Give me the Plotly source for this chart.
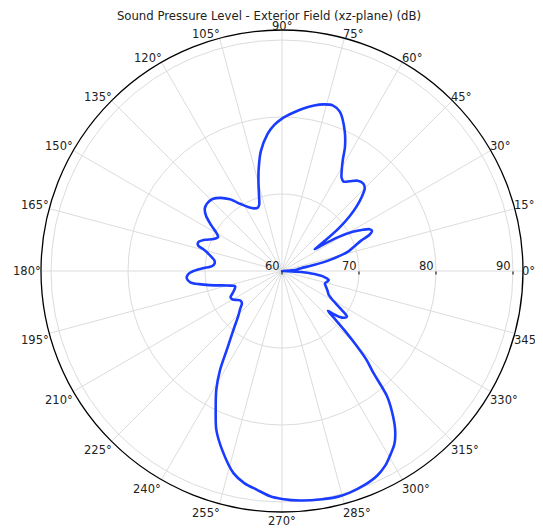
import math
import plotly.graph_objects as go

# angle (deg) and sound pressure level (dB)
theta_deg = [
    0, 2, 4, 6, 8.5, 10.5, 13, 16.5, 19, 21, 22.5, 24, 25.5, 27, 29, 31, 33, 33.8,
    35, 37, 39, 41, 43, 45, 47, 50, 53, 55.5, 57.5, 59.5, 61.5, 63, 66, 70, 73,
    76, 79, 82.5, 86, 90, 93, 96, 100, 103, 105, 107, 109, 111, 114, 118, 122,
    126, 130, 134, 138, 141, 144, 147, 150, 152, 155, 158, 161, 163, 165, 168,
    171, 173.5, 176, 178, 180, 182, 184.5, 187, 189, 191, 193, 195, 198, 201,
    204, 207, 210, 213, 216, 219, 222, 226, 230, 233, 235, 238, 241, 244.5,
    247.5, 251.5, 256.5, 260, 263.5, 267, 270, 274.5, 280, 284, 287, 291, 295,
    298, 300, 303, 305.5, 308, 310, 312, 313.5, 315, 316.5, 318, 319, 320,
    321.5, 323, 325, 327, 329, 331, 333, 336, 338, 341, 344, 346.5, 349, 351,
    353, 355, 357, 359, 360,
]
spl_db = [
    60, 60.6, 61.4, 62.0, 62.5, 64.2, 66.4, 69.0, 70.0, 71.0, 72.3, 72.8, 72.6,
    71.8, 70.5, 68.6, 66.0, 65.1, 66.6, 69.3, 71.3, 72.9, 74.2, 75.2, 75.5, 75.3,
    74.6, 74.1, 74.4, 75.3, 76.6, 78.0, 80.0, 82.0, 82.5, 82.3, 81.9, 81.3, 80.6,
    79.8, 79.0, 77.9, 75.8, 73.5, 71.8, 70.2, 69.1, 68.8, 68.9, 69.4, 70.3, 71.5,
    72.4, 73.0, 73.1, 72.9, 72.2, 71.0, 69.8, 69.4, 69.8, 70.8, 71.5, 71.4, 70.4,
    69.5, 68.9, 68.8, 69.1, 70.3, 71.5, 72.2, 72.4, 72.0, 70.9, 69.6, 68.3, 67.3,
    66.4, 66.6, 67.0, 67.5, 67.4, 66.9, 66.6, 66.7, 67.3, 68.2, 69.7, 71.2, 72.5,
    75.2, 77.6, 80.0, 82.3, 84.5, 87.0, 88.0, 88.6, 89.3, 89.6, 89.9, 90.1, 90.2,
    90.1, 89.8, 89.3, 88.6, 87.9, 86.8, 85.3, 83.2, 81.2, 77.6, 76.0, 73.6, 71.2,
    69.0, 67.9, 68.6, 69.6, 70.1, 70.3, 69.2, 68.1, 67.3, 66.8, 66.5, 66.3, 66.0,
    65.8, 66.0, 66.2, 65.8, 65.2, 64.0, 62.5, 60.8, 60,
]
angle_ticks = list(range(0, 360, 15))
radial_ticks = [60, 70, 80, 90]
r_range = [60, 91.3]

fig = go.Figure()
fig.add_trace(go.Scatterpolar(
    r=spl_db, theta=theta_deg, mode="lines",
    line=dict(color="#1a3cff", width=2.6, shape="spline", smoothing=0.8),
    showlegend=False,
))

# the page body adds an 8px offset, so positions are given 8px up/left
off = 8
cx, cy, rad = 282 - off, 271 - off, 241
W, H = 543, 529
lab_font = dict(size=11.5, color="#222")

# angular labels hug the outer circle like the original
for a in angle_ticks:
    c, s = math.cos(math.radians(a)), math.sin(math.radians(a))
    px, py = cx + rad * c, cy - rad * s
    if abs(c) < 0.1:
        xa = "center"
    elif c > 0:
        xa = "left"
        px -= 2
    else:
        xa = "right"
        px += 1
    if s > 0.05:
        py -= 4
    elif s < -0.3:
        py += 8.8
    elif s < -0.05:
        py += 6.6
    fig.add_annotation(text=f"{a}°", x=px / W, y=1 - py / H, xref="paper", yref="paper",
                       xanchor=xa, yanchor="middle", showarrow=False, borderpad=0,
                       font=lab_font)

# radial labels sit just above the 0° spoke, ending at their tick
for v in radial_ticks:
    px = cx + rad * (v - r_range[0]) / (r_range[1] - r_range[0])
    fig.add_annotation(text=str(v), x=(px - 1) / W, y=1 - (cy - 5) / H,
                       xref="paper", yref="paper", xanchor="right", yanchor="middle",
                       showarrow=False, borderpad=0, font=lab_font)

fig.update_layout(
    width=W, height=H,
    margin=dict(l=0, r=0, t=0, b=0),
    paper_bgcolor="white",
    font=dict(family="DejaVu Sans", size=11.5, color="#222"),
    title=dict(text="Sound Pressure Level - Exterior Field (xz-plane) (dB)",
               x=(269 - off) / W, xanchor="center",
               y=1 - 7.5 / H, yanchor="middle",
               font=dict(size=11.7, color="#222")),
    polar=dict(
        domain=dict(x=[(cx - rad) / W, (cx + rad) / W],
                    y=[(H - cy - rad) / H, (H - cy + rad) / H]),
        bgcolor="white",
        radialaxis=dict(range=r_range, tick0=60, dtick=10, angle=0,
                        showticklabels=False, showline=False,
                        ticks="outside", ticklen=3, tickcolor="black",
                        gridcolor="#dcdcdc", gridwidth=1),
        angularaxis=dict(direction="counterclockwise", rotation=0,
                         tickmode="array", tickvals=angle_ticks,
                         showticklabels=False,
                         showline=True, linecolor="black", linewidth=1.3,
                         ticks="", gridcolor="#dcdcdc", gridwidth=1),
    ),
)

fig.write_html("out.html")
